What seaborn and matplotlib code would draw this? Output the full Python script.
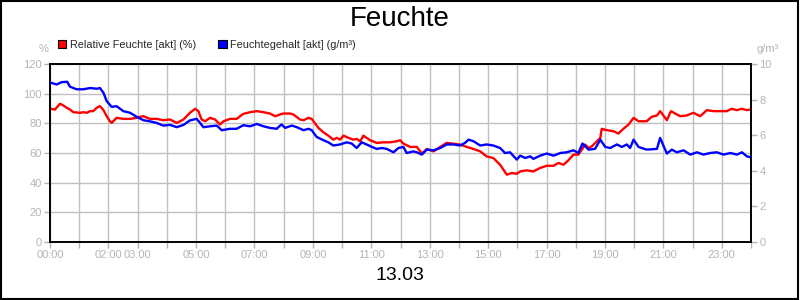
import matplotlib
matplotlib.use("Agg")
import matplotlib.pyplot as plt
import seaborn as sns
import pandas as pd
from matplotlib.patches import Patch, Rectangle

# ---------------- data ----------------
rh_hours = [0.02, 0.17, 0.34, 0.46, 0.57, 0.68, 0.80, 1.03, 1.14, 1.26, 1.37, 1.48, 1.60, 1.71, 1.83,
            1.94, 2.05, 2.11, 2.28, 2.51, 2.74, 2.97, 3.08, 3.20, 3.42, 3.65, 3.88, 4.11, 4.34, 4.57,
            4.79, 4.97, 5.08, 5.19, 5.31, 5.48, 5.65, 5.82, 5.94, 6.16, 6.39, 6.62, 6.85, 7.08, 7.31,
            7.53, 7.71, 7.88, 7.99, 8.22, 8.33, 8.56, 8.68, 8.85, 8.96, 9.02, 9.19, 9.36, 9.53, 9.70,
            9.82, 9.93, 10.05, 10.22, 10.39, 10.50, 10.62, 10.73, 10.84, 10.96, 11.19, 11.42, 11.64,
            11.87, 11.99, 12.10, 12.33, 12.56, 12.73, 12.90, 13.13, 13.36, 13.58, 13.81, 14.04, 14.27,
            14.50, 14.73, 14.95, 15.18, 15.41, 15.64, 15.81, 15.98, 16.10, 16.32, 16.55, 16.78, 17.01,
            17.24, 17.41, 17.58, 17.75, 17.92, 18.09, 18.21, 18.32, 18.44, 18.55, 18.72, 18.84, 18.89,
            19.06, 19.29, 19.46, 19.63, 19.81, 19.98, 20.15, 20.43, 20.60, 20.78, 20.89, 21.00, 21.12,
            21.26, 21.46, 21.58, 21.80, 22.03, 22.26, 22.49, 22.72, 22.95, 23.17, 23.34, 23.52, 23.69,
            23.86, 23.97]
rh_values = [89.8, 89.3, 93.2, 92.0, 90.5, 89.3, 87.5, 87.1, 87.5, 87.1, 88.2, 88.2, 90.5, 91.6, 88.9,
             84.8, 81.4, 80.3, 83.7, 83.0, 83.0, 83.7, 84.4, 84.8, 83.0, 83.0, 82.1, 82.6, 80.3, 82.6,
             87.1, 89.8, 88.2, 82.6, 81.4, 83.7, 82.6, 79.2, 81.4, 83.0, 83.0, 86.4, 87.5, 88.2, 87.5,
             86.6, 84.8, 86.0, 86.6, 86.6, 86.0, 82.6, 82.1, 83.7, 83.0, 81.4, 76.9, 74.0, 71.7, 69.0,
             70.2, 69.0, 71.7, 70.2, 69.0, 69.5, 67.9, 71.7, 70.2, 68.6, 66.8, 67.2, 67.2,
             67.9, 68.6, 66.3, 64.1, 64.1, 59.6, 62.7, 61.1, 64.1, 66.8, 66.3, 65.7, 64.1,
             62.7, 61.1, 57.7, 56.6, 52.1, 45.4, 46.5, 46.0, 47.6, 48.3, 47.6, 49.9, 51.4,
             51.4, 53.3, 52.1, 55.1, 58.9, 58.9, 62.3, 65.7, 63.4, 64.5, 67.9, 70.2, 76.3,
             75.4, 74.7, 73.1, 76.3, 79.2, 83.7, 81.4, 81.4, 84.4, 85.3, 88.2, 85.3, 82.1,
             88.2, 86.0, 84.8, 85.3, 87.1, 84.8, 88.9, 88.2, 88.2, 88.2, 89.8, 88.9, 89.8,
             88.9, 89.3]

ah_hours = [0.02, 0.23, 0.40, 0.59, 0.68, 0.91, 1.14, 1.37, 1.60, 1.71, 1.83, 1.94, 2.11, 2.28, 2.51,
            2.74, 2.97, 3.20, 3.42, 3.65, 3.88, 4.11, 4.34, 4.57, 4.79, 5.02, 5.14, 5.25, 5.48, 5.71,
            5.88, 6.16, 6.39, 6.62, 6.85, 7.08, 7.31, 7.53, 7.76, 7.88, 7.93, 8.05, 8.28, 8.45, 8.68,
            8.85, 8.96, 9.13, 9.36, 9.53, 9.70, 9.93, 10.16, 10.33, 10.50, 10.67, 10.84, 11.02, 11.19,
            11.36, 11.53, 11.76, 11.93, 12.10, 12.21, 12.44, 12.56, 12.73, 12.90, 13.13, 13.36, 13.58,
            13.81, 14.04, 14.21, 14.33, 14.50, 14.73, 14.95, 15.18, 15.41, 15.58, 15.75, 15.98, 16.10,
            16.27, 16.44, 16.55, 16.78, 17.01, 17.24, 17.47, 17.69, 17.92, 18.09, 18.23, 18.44, 18.66,
            18.84, 19.01, 19.18, 19.41, 19.58, 19.75, 19.86, 19.98, 20.15, 20.43, 20.78, 20.89, 21.00,
            21.12, 21.29, 21.46, 21.69, 21.92, 22.15, 22.37, 22.60, 22.83, 23.06, 23.29, 23.52, 23.69,
            23.86, 23.97]
ah_values = [8.95, 8.85, 8.98, 9.00, 8.73, 8.58, 8.58, 8.65, 8.61, 8.65, 8.38, 7.92, 7.59, 7.63, 7.35,
             7.26, 7.03, 6.84, 6.78, 6.69, 6.54, 6.58, 6.45, 6.58, 6.83, 6.92, 6.69, 6.45, 6.50, 6.54,
             6.28, 6.36, 6.36, 6.56, 6.50, 6.63, 6.50, 6.41, 6.36, 6.54, 6.60, 6.41, 6.54, 6.45, 6.28,
             6.36, 6.28, 5.90, 5.72, 5.60, 5.42, 5.48, 5.60, 5.53, 5.28, 5.60, 5.48, 5.34, 5.23,
             5.28, 5.23, 5.04, 5.28, 5.34, 5.00, 5.09, 5.04, 4.91, 5.19, 5.15, 5.28, 5.48,
             5.48, 5.42, 5.57, 5.75, 5.66, 5.42, 5.48, 5.42, 5.28, 5.00, 5.04, 4.63, 4.85,
             4.72, 4.81, 4.67, 4.85, 4.97, 4.85, 5.00, 5.04, 5.15, 5.00, 5.53, 5.19, 5.23,
             5.75, 5.34, 5.28, 5.48, 5.34, 5.48, 5.28, 5.75, 5.34, 5.19, 5.23, 5.85, 5.42,
             4.97, 5.19, 5.04, 5.15, 4.91, 5.04, 4.91, 5.00, 5.04, 4.91, 5.00, 4.91, 5.04,
             4.81, 4.77]

x_tick_labels = ["00:00", "", "02:00", "03:00", "", "05:00", "", "07:00", "", "09:00", "", "11:00", "",
                 "13:00", "", "15:00", "", "17:00", "", "19:00", "", "21:00", "", "23:00", ""]
left_ticks = [0, 20, 40, 60, 80, 100, 120]
right_ticks = [0, 2, 4, 6, 8, 10]

title = "Feuchte"
date_label = "13.03"
label_rh = "Relative Feuchte [akt] (%)"
label_ah = "Feuchtegehalt [akt] (g/m³)"

# ---------------- plot ----------------
sns.set_style("white")
plt.rcParams['font.family'] = ['Liberation Sans', 'DejaVu Sans']

grey = "#b4b4b4"
fig = plt.figure(figsize=(8, 3), dpi=100)
ax = fig.add_axes([0.0625, 0.1933, 0.87625, 0.5934])
ax2 = ax.twinx()

df_rh = pd.DataFrame({"h": rh_hours, "v": rh_values})
df_ah = pd.DataFrame({"h": ah_hours, "v": ah_values})
sns.lineplot(data=df_rh, x="h", y="v", ax=ax, color="#ff0000", linewidth=1.7, zorder=3)
sns.lineplot(data=df_ah, x="h", y="v", ax=ax2, color="#0000ff", linewidth=1.7, zorder=3)

ax.set_xlim(0, 24)
ax.set_ylim(0, 120)
ax2.set_ylim(0, 10)
ax.set_xticks(range(25))
ax.set_xticklabels(x_tick_labels)
ax.set_yticks(left_ticks)
ax2.set_yticks(right_ticks)
ax.set_xlabel("")
ax.set_ylabel("")
ax2.set_ylabel("")

ax.grid(True, color="#c0c0c0", linewidth=1.0)
ax.set_axisbelow(True)
ax2.grid(False)

for a in (ax, ax2):
    for s in a.spines.values():
        s.set_color("black")
        s.set_linewidth(1.2)
    a.tick_params(axis="both", colors=grey, labelsize=8, length=4, width=1, pad=2,
                  direction="out")
ax.tick_params(left=True, bottom=True)
ax2.tick_params(right=True)

fig.text(0.5, 0.935, title, ha="center", va="center", fontsize=20, color="black")
fig.text(0.5, 0.083, date_label, ha="center", va="center", fontsize=14, color="black")
fig.text(0.054, 0.838, "%", ha="center", va="center", fontsize=8, color=grey)
fig.text(0.959, 0.838, "g/m³", ha="center", va="center", fontsize=8, color=grey)

handles = [Patch(facecolor="#ff0000", edgecolor="black", linewidth=0.8, label=label_rh),
           Patch(facecolor="#0000ff", edgecolor="black", linewidth=0.8, label=label_ah)]
fig.legend(handles=handles, loc="center left", bbox_to_anchor=(0.072, 0.85), ncol=2,
           frameon=False, fontsize=7.8, handlelength=0.8, handleheight=0.8,
           handletextpad=0.3, columnspacing=2.1, borderaxespad=0, borderpad=0)

fig.patches.append(Rectangle((0.001, 0.002), 0.997, 0.995, transform=fig.transFigure,
                             fill=False, edgecolor="black", linewidth=1.5))

fig.savefig("out.png", dpi=100)
